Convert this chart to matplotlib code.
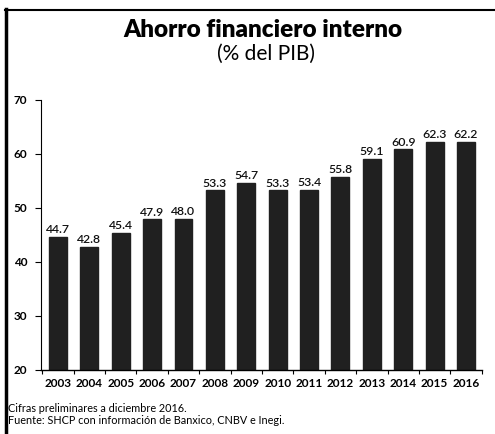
import matplotlib
matplotlib.use("Agg")
import matplotlib.pyplot as plt
from matplotlib.lines import Line2D
import numpy as np

years = ["2003", "2004", "2005", "2006", "2007", "2008", "2009",
         "2010", "2011", "2012", "2013", "2014", "2015", "2016"]
values = [44.7, 42.8, 45.4, 47.9, 48.0, 53.3, 54.7,
          53.3, 53.4, 55.8, 59.1, 60.9, 62.3, 62.2]
yticks = [20, 30, 40, 50, 60, 70]

plt.rcParams['font.family'] = ['Lato', 'DejaVu Sans']

W, H = 495, 434
fig = plt.figure(figsize=(W / 100, H / 100), dpi=100)
ax = fig.add_axes([41 / W, 1 - 370 / H, (482 - 41) / W, (370 - 100) / H])

x = np.arange(len(years))
ax.bar(x, values, width=0.57, color="#202020", edgecolor="#202020", zorder=2)
for xi, v in zip(x, values):
    ax.text(xi, v + 0.3, f"{v:.1f}", ha="center", va="bottom", fontsize=8.8,
            fontweight="semibold", color="#111111")

ax.set_ylim(20, 70)
ax.set_xlim(-0.54, 13.51)
ax.set_yticks(yticks)
ax.set_yticklabels([str(t) for t in yticks], fontsize=8.5, fontweight="bold")
ax.set_xticks(x)
ax.set_xticklabels(years, fontsize=8.5, fontweight="bold")
ax.tick_params(axis="x", length=0, pad=6)
ax.tick_params(axis="y", length=4, width=0.8, pad=6)
ax.set_xticks(np.arange(-0.5, 13.6, 1.0), minor=True)
ax.tick_params(axis="x", which="minor", length=3, width=0.8, direction="out")
for s in ["top", "right"]:
    ax.spines[s].set_visible(False)
ax.spines["left"].set_linewidth(0.8)
ax.spines["bottom"].set_linewidth(1.0)

fig.text(263 / W, 1 - 30 / H, "Ahorro financiero interno", ha="center", va="center",
         fontsize=17.5, fontweight="heavy")
fig.text(266 / W, 1 - 54 / H, "(% del PIB)", ha="center", va="center", fontsize=15)

fig.text(8 / W, 1 - 408 / H, "Cifras preliminares a diciembre 2016.", ha="left", va="center", fontsize=7.8)
fig.text(8 / W, 1 - 421 / H, "Fuente: SHCP con información de Banxico, CNBV e Inegi.", ha="left",
         va="center", fontsize=7.8)

fig.add_artist(Line2D([6 / W, 6 / W], [0, 1 - 9 / H], transform=fig.transFigure, color="black", lw=2.5))
fig.add_artist(Line2D([5 / W, 1], [1 - 9.5 / H, 1 - 9.5 / H], transform=fig.transFigure, color="black", lw=1.5))

fig.savefig("out.png", dpi=100)
